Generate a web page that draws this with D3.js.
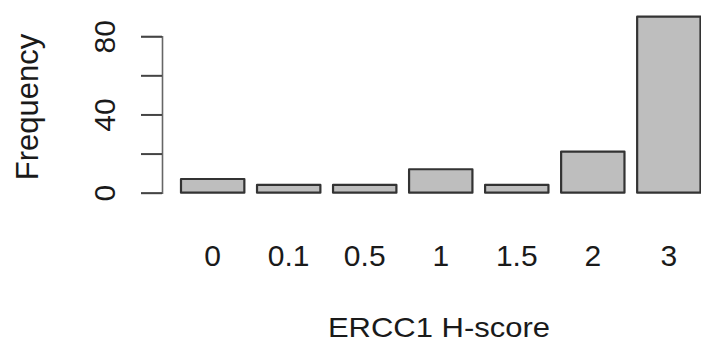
<!DOCTYPE html>
<html>
<head>
<meta charset="utf-8">
<script src="https://cdn.jsdelivr.net/npm/d3@7"></script>
<style>
  html, body { margin: 0; padding: 0; background: #fff; }
  svg { display: block; }
  text { font-family: "Liberation Sans", Arial, sans-serif; fill: #1a1a1a; }
</style>
</head>
<body>
<script>
// ERCC1 H-score distribution (counts per score)
const categories = ["0", "0.1", "0.5", "1", "1.5", "2", "3"];
const counts = [7, 4, 4, 12, 4, 21, 90];
const yTicks = [0, 20, 40, 60, 80];
const yTickLabels = ["0", "", "40", "", "80"];
const xTitle = "ERCC1 H-score";
const yTitle = "Frequency";

const W = 701, H = 345;
const svg = d3.select("body").append("svg").attr("width", W).attr("height", H);

const x = d3.scaleBand()
  .domain(categories)
  .range([181, 700.5])
  .paddingInner(1 / 6)
  .paddingOuter(0);

const y = d3.scaleLinear()
  .domain([0, 80])
  .range([192.7, 36.2]);

// bars
svg.append("g")
  .selectAll("rect")
  .data(categories.map((c, i) => ({ c, v: counts[i] })))
  .join("rect")
  .attr("x", d => x(d.c))
  .attr("y", d => y(d.v))
  .attr("width", x.bandwidth())
  .attr("height", d => y(0) - y(d.v))
  .attr("fill", "#bebebe")
  .attr("stroke", "#333")
  .attr("stroke-width", 2.2)
  .attr("stroke-linejoin", "round");

// y axis: line, ticks and rotated labels
const yAxis = d3.axisLeft(y)
  .tickValues(yTicks)
  .tickSize(21)
  .tickPadding(0)
  .tickFormat((d, i) => yTickLabels[i]);

const gy = svg.append("g")
  .attr("transform", "translate(162,0)")
  .call(yAxis);
gy.select(".domain").attr("stroke", "#666").attr("stroke-width", 1.6);
gy.selectAll(".tick line").attr("stroke", "#444").attr("stroke-width", 2);
gy.selectAll(".tick text")
  .attr("x", null).attr("dy", null)
  .attr("text-anchor", "middle")
  .attr("transform", "translate(-47,0) rotate(-90)")
  .style("font-size", "30px")
  .style("font-family", "'Liberation Sans', Arial, sans-serif")
  .attr("fill", "#1a1a1a");

// category labels under bars
svg.append("g")
  .selectAll("text")
  .data(categories)
  .join("text")
  .attr("x", d => x(d) + x.bandwidth() / 2)
  .attr("y", 266)
  .attr("text-anchor", "middle")
  .style("font-size", "30px")
  .text(d => d);

// axis titles
svg.append("text")
  .attr("transform", "translate(439,337) scale(1,0.9)")
  .attr("text-anchor", "middle")
  .style("font-size", "31px")
  .text(xTitle);

svg.append("text")
  .attr("transform", "translate(38,107) rotate(-90)")
  .attr("text-anchor", "middle")
  .style("font-size", "31px")
  .text(yTitle);
</script>
</body>
</html>
